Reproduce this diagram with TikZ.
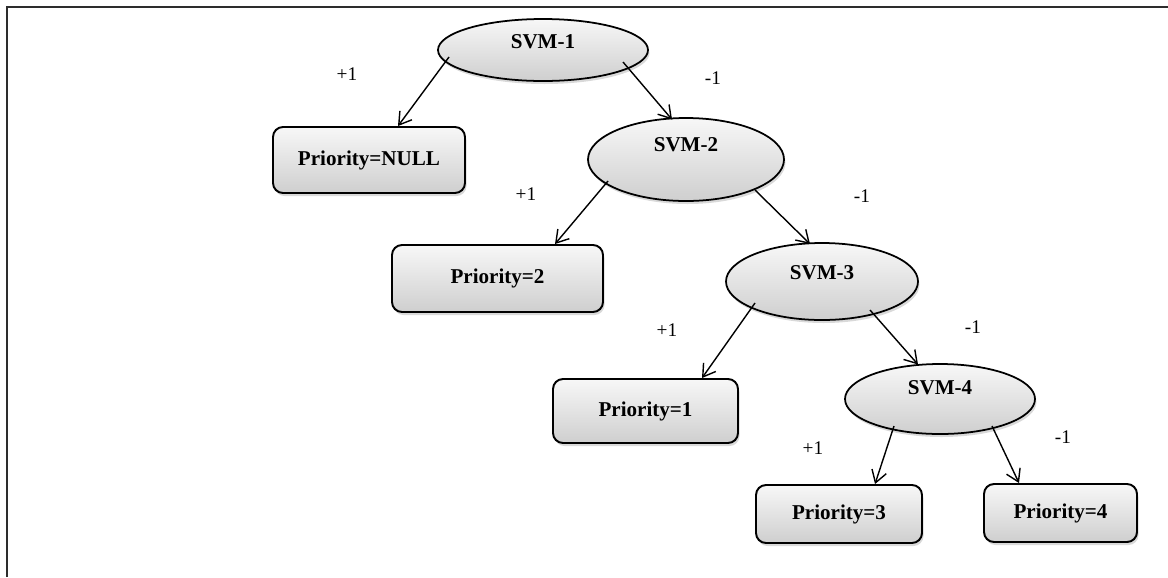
\documentclass[tikz,border=0pt]{standalone}
\usepackage{fontspec}
\setmainfont{Liberation Serif}
\usepackage{tikz}
\usetikzlibrary{shapes.geometric}
\usetikzlibrary{arrows.meta}
\usetikzlibrary{shadows}

\begin{document}
\begin{tikzpicture}[
	svm/.style={ellipse, draw, line width=1pt, top color=gray!6, bottom color=gray!38, drop shadow={shadow xshift=0.03cm, shadow yshift=-0.06cm, opacity=0.3}, inner sep=0pt},
	prio/.style={rectangle, rounded corners=0.2cm, draw, line width=1.1pt, top color=gray!6, bottom color=gray!38, drop shadow={shadow xshift=0.03cm, shadow yshift=-0.06cm, opacity=0.3}, font=\fontsize{12}{14}\selectfont\bfseries, inner sep=0pt},
	kante/.style={-{Straight Barb[length=0.24cm, width=0.3cm]}, line width=0.8pt},
	wert/.style={font=\fontsize{11}{13}\selectfont}
]
\useasboundingbox (0,0) rectangle (23.36,-11.54);
\draw[gray!35!black, line width=1.2pt] (0.14,-11.54) -- (0.14,-0.14) -- (23.36,-0.14);	% Rahmen links und oben

\node[svm, minimum width=4.2cm, minimum height=1.24cm, label={[font=\fontsize{12}{14}\selectfont\bfseries, yshift=0.16cm]center:SVM-1}] (svm1) at (10.86,-1.00) {};	% Wurzel
\node[svm, minimum width=3.92cm, minimum height=1.66cm, label={[font=\fontsize{12}{14}\selectfont\bfseries, yshift=0.29cm]center:SVM-2}] (svm2) at (13.72,-3.19) {};	% Ebene 2
\node[svm, minimum width=3.84cm, minimum height=1.54cm, label={[font=\fontsize{12}{14}\selectfont\bfseries, yshift=0.17cm]center:SVM-3}] (svm3) at (16.44,-5.63) {};	% Ebene 3
\node[svm, minimum width=3.8cm, minimum height=1.4cm, label={[font=\fontsize{12}{14}\selectfont\bfseries, yshift=0.22cm]center:SVM-4}] (svm4) at (18.80,-7.98) {};	% Ebene 4

\node[prio, minimum width=3.84cm, minimum height=1.32cm] (pnull) at (7.38,-3.20) {Priority=NULL};	% Blatt NULL
\node[prio, minimum width=4.22cm, minimum height=1.34cm] (p2) at (9.95,-5.57) {Priority=2};		% Blatt 2
\node[prio, minimum width=3.7cm, minimum height=1.28cm] (p1) at (12.91,-8.22) {Priority=1};		% Blatt 1
\node[prio, minimum width=3.32cm, minimum height=1.16cm] (p3) at (16.78,-10.28) {Priority=3};	% Blatt 3
\node[prio, minimum width=3.06cm, minimum height=1.16cm] (p4) at (21.21,-10.26) {Priority=4};	% Blatt 4

\draw[kante] ([shift={(-1.88,-0.14)}]svm1.center) -- ([xshift=0.58cm]pnull.north);			% SVM-1 +1
\draw[kante] ([shift={(1.60,-0.24)}]svm1.center) -- ([shift={(-0.28,0.80)}]svm2.center);	% SVM-1 -1
\draw[kante] ([shift={(-1.56,-0.43)}]svm2.center) -- ([xshift=1.15cm]p2.north);			% SVM-2 +1
\draw[kante] ([shift={(1.38,-0.61)}]svm2.center) -- ([shift={(-0.24,0.75)}]svm3.center);	% SVM-2 -1
\draw[kante] ([shift={(-1.34,-0.43)}]svm3.center) -- ([xshift=1.13cm]p1.north);			% SVM-3 +1
\draw[kante] ([shift={(0.96,-0.57)}]svm3.center) -- ([shift={(-0.44,0.69)}]svm4.center);	% SVM-3 -1
\draw[kante] ([shift={(-0.92,-0.54)}]svm4.center) -- ([xshift=0.72cm]p3.north);			% SVM-4 +1
\draw[kante] ([shift={(1.04,-0.54)}]svm4.center) -- ([xshift=-0.83cm]p4.north);			% SVM-4 -1

\node[wert] (w1) at (6.94,-1.48) {+1};	% Werte an den Kanten
\node[wert] (w2) at (14.26,-1.56) {-1};
\node[wert] (w3) at (10.52,-3.88) {+1};
\node[wert] (w4) at (17.24,-3.92) {-1};
\node[wert] (w5) at (13.34,-6.60) {+1};
\node[wert] (w6) at (19.46,-6.54) {-1};
\node[wert] (w7) at (16.26,-8.96) {+1};
\node[wert] (w8) at (21.26,-8.74) {-1};

\end{tikzpicture}
\end{document}
